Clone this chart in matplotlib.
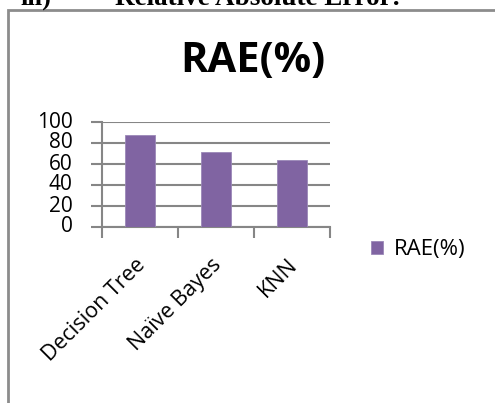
import matplotlib
matplotlib.use("Agg")
import matplotlib.pyplot as plt
from matplotlib.patches import Rectangle
from matplotlib.transforms import ScaledTranslation

categories = ["Decision Tree", "Naïve Bayes", "KNN"]
rae_values = [87.6, 71.7, 63.8]
series_name = "RAE(%)"
y_ticks = [0, 20, 40, 60, 80, 100]

W, H = 495, 403
fig = plt.figure(figsize=(W / 100, H / 100), dpi=100)
fig.patch.set_facecolor("white")

FONT = ["Open Sans", "DejaVu Sans"]
GRID = "#868686"
BAR = "#8064A2"

# heading of the document section, mostly clipped by the top edge
fig.text(20 / W, 1 - 5 / H, "iii)", family="Liberation Serif", weight="bold",
         fontsize=19, va="baseline", ha="left")
fig.text(115 / W, 1 - 5 / H, "Relative Absolute Error:", family="Liberation Serif",
         weight="bold", fontsize=19.5, va="baseline", ha="left")

# chart frame
fig.patches.append(Rectangle((7.5 / W, -0.1), 1.2, 1 - 10 / H + 0.1,
                             transform=fig.transFigure, fill=False,
                             edgecolor="#8c8c8c", linewidth=2))

ax = fig.add_axes([102 / W, 1 - 227 / H, (330 - 102) / W, (227 - 122) / H])
x = list(range(len(categories)))
ax.bar(x, rae_values, width=0.4, color=BAR, edgecolor="#9b88b7", linewidth=0.6,
       zorder=3, label=series_name)

ax.set_xlim(-0.5, len(categories) - 0.5)
ax.set_ylim(0, 100)
ax.set_yticks(y_ticks)
ax.set_yticklabels([str(v) for v in y_ticks], family=FONT, fontsize=15)
ax.yaxis.grid(True, color=GRID, linewidth=1.5, zorder=0)
ax.tick_params(axis="y", direction="out", length=8, width=1.5, color=GRID,
               pad=13)
for lbl in ax.get_yticklabels():
    lbl.set_verticalalignment("center")

ax.set_xticks(x)
ax.set_xticklabels(categories, family=FONT, fontsize=15.5, rotation=45,
                   ha="right", va="center", rotation_mode="anchor")
ax.tick_params(axis="x", which="major", length=0, pad=0)
ax.set_xticks([i - 0.5 for i in range(len(categories) + 1)], minor=True)
ax.tick_params(axis="x", which="minor", direction="out", length=8, width=1.5,
               color=GRID)
for lbl in ax.get_xticklabels():
    lbl.set_transform(lbl.get_transform() +
                      ScaledTranslation(2 / 100, -35 / 100, fig.dpi_scale_trans))

for side in ("top", "right"):
    ax.spines[side].set_visible(False)
for side in ("left", "bottom"):
    ax.spines[side].set_color(GRID)
    ax.spines[side].set_linewidth(1.5)
ax.set_facecolor("none")

fig.text(253 / W, 1 - 62 / H, "RAE(%)", family=FONT, weight="bold",
         fontsize=30, ha="center", va="center")

leg = fig.legend(loc="center left", bbox_to_anchor=(371 / W, 1 - 250 / H),
                 prop={"family": FONT, "size": 16}, frameon=False,
                 handlelength=0.55, handleheight=0.55, handletextpad=0.5,
                 borderaxespad=0, borderpad=0)

fig.savefig("out.png", dpi=100, facecolor="white")
